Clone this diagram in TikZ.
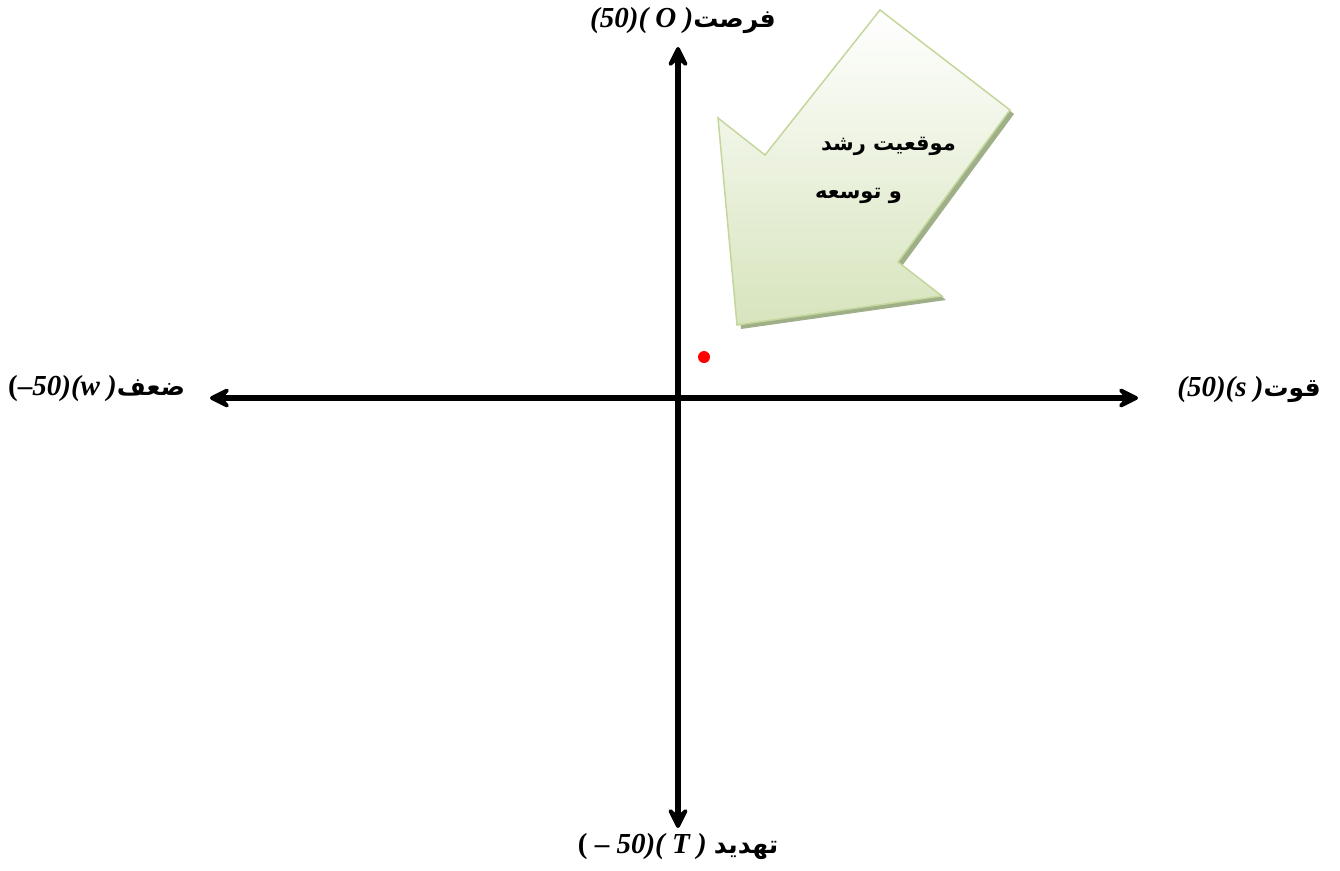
\documentclass[tikz,border=0pt]{standalone}
\usepackage{fontspec}
\usetikzlibrary{arrows.meta,shadows}
\TeXXeTstate=1
\setmainfont{Liberation Serif}
\newfontfamily\arabicfont[Script=Arabic]{DejaVu Sans}
\newcommand{\fa}[1]{{\arabicfont\bfseries\beginR #1\endR}}
\newcommand{\faL}[1]{{\fontsize{25}{28}\selectfont\arabicfont\bfseries\beginR #1\endR}}
\tikzset{
  axis/.style={line width=5.5pt, -{Stealth[length=27pt,width=27pt,inset=12pt,round]}},
  lbl/.style={inner sep=0pt, font=\bfseries\fontsize{29}{32}\selectfont},
  bubtext/.style={inner sep=0pt, font=\fontsize{21}{24}\selectfont},
}
\definecolor{arrowline}{HTML}{C3D69B}
\definecolor{arrowfill}{HTML}{D7E4BD}
\definecolor{arrowshadow}{HTML}{9FAF87}
\begin{document}
\begin{tikzpicture}[x=1pt,y=-1pt]
\useasboundingbox (0,0) rectangle (1340,870);
% axes
\coordinate (c) at (678,398);
\coordinate (L) at (210,398);
\coordinate (R) at (1138,398);
\coordinate (T) at (678,47);
\coordinate (B) at (678,828);
\draw[axis] (c) -- (L);
\draw[axis] (c) -- (R);
\draw[axis] (c) -- (T);
\draw[axis] (c) -- (B);
% block arrow shadow
\fill[arrowshadow] (884,14) -- (1014,114) -- (902,266) -- (946,300) -- (741,329) -- (722,122) -- (769,159) -- cycle;
% block arrow
\shade[top color=white, bottom color=arrowfill, draw=arrowline, line width=1.5pt]
  (880,10) -- (1010,110) -- (898,262) -- (942,296) -- (737,325) -- (718,118) -- (765,155) -- cycle;
\node[bubtext, anchor=east] (t1) at (956,146) {\fa{موقعیت رشد}};
\node[bubtext, anchor=west] (t2) at (815,196) {\fa{و توسعه}};
% red dot
\fill[red] (704,357) circle (6);
% labels
\node[lbl] (lo) at (683,21) {\textit{(50)( O )}\faL{فرصت}};
\node[lbl, anchor=west] (lw) at (8,389) {(\textendash\textit{50)(w )}\faL{ضعف}};
\node[lbl] (ls) at (1249,390) {\textit{(50)(s )}\faL{قوت}};
\node[lbl] (lt) at (678,847) {( \textendash{} \textit{50)( T )}\ \faL{تهدید}};
\end{tikzpicture}
\end{document}
